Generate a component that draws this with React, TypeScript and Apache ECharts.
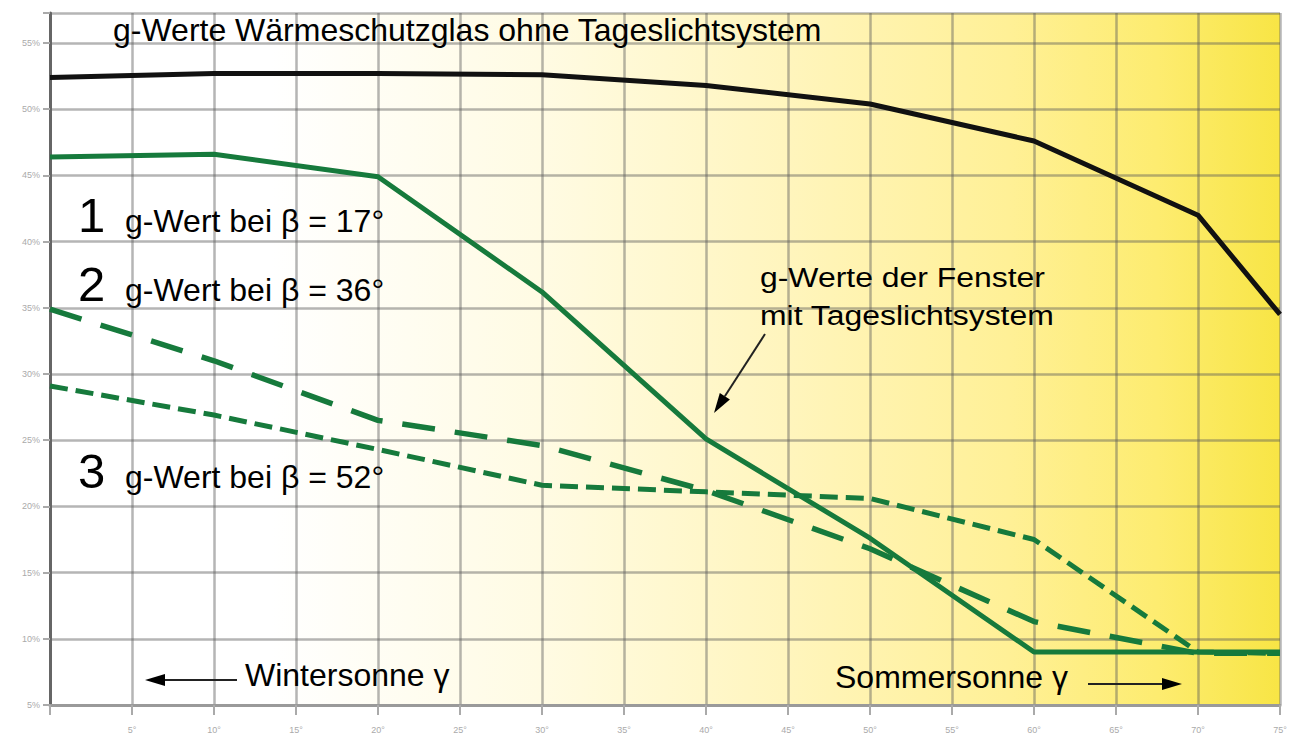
import React, { useEffect, useRef } from 'react';
import * as echarts from 'echarts';

// Sun elevation angle γ (degrees)
const angles = [0, 10, 20, 30, 40, 50, 60, 70, 75];
// g-Werte Wärmeschutzglas ohne Tageslichtsystem (%)
const gOhne = [52.4, 52.7, 52.7, 52.6, 51.8, 50.4, 47.6, 42.0, 34.5];
// g-Wert bei β = 17° (%)
const gBeta17 = [46.4, 46.6, 44.9, 36.2, 25.1, 17.6, 9.0, 9.0, 9.0];
// g-Wert bei β = 36° (%)
const gBeta36 = [34.9, 31.0, 26.5, 24.6, 21.2, 16.8, 11.3, 8.9, 8.9];
// g-Wert bei β = 52° (%)
const gBeta52 = [29.1, 26.9, 24.3, 21.6, 21.1, 20.6, 17.5, 9.0, 8.9];

const xTickStep = 5;
const yTickStep = 5;
const xMin = 0;
const xMax = 75;
const yMin = 5;
const yMax = 57.27;

const FONT = '"Liberation Sans", Arial, sans-serif';
const GREEN = '#167a3c';

const pairs = (ys: number[]) => angles.map((a, i) => [a, ys[i]]);

function txt(text: string, x: number, y: number, size: number, scaleX = 1) {
  return {
    type: 'text',
    x,
    y,
    scaleX,
    z: 100,
    style: {
      text,
      fontSize: size,
      fontFamily: FONT,
      fill: '#000',
      align: 'left',
      verticalAlign: 'middle',
    },
  };
}

export default function App() {
  const ref = useRef<HTMLDivElement>(null);
  useEffect(() => {
    document.body.style.margin = '0';
    const chart = echarts.init(ref.current!, null, { renderer: 'svg' });

    // diagonal arrow geometry
    const ax0 = 765, ay0 = 334, tipX = 714, tipY = 413;
    const dx = tipX - ax0, dy = tipY - ay0;
    const len = Math.sqrt(dx * dx + dy * dy);
    const ux = dx / len, uy = dy / len;
    const bx = tipX - 20 * ux, by = tipY - 20 * uy;
    const px = -uy, py = ux;

    chart.setOption({
      animation: false,
      backgroundColor: '#fff',
      grid: {
        left: 50,
        right: 17,
        top: 13,
        bottom: 38,
        show: true,
        borderWidth: 0,
        backgroundColor: {
          type: 'linear',
          x: 0, y: 0, x2: 1, y2: 0,
          colorStops: [
            { offset: 0, color: '#ffffff' },
            { offset: 0.18, color: '#ffffff' },
            { offset: 0.4, color: '#fffbe3' },
            { offset: 0.6, color: '#fff5bd' },
            { offset: 0.78, color: '#fff096' },
            { offset: 0.9, color: '#fdec70' },
            { offset: 1, color: '#f8e545' },
          ],
        },
      },
      xAxis: {
        type: 'value',
        min: xMin,
        max: xMax,
        interval: xTickStep,
        axisLine: { show: true, onZero: false, lineStyle: { color: '#9a9a9a', width: 3 } },
        axisTick: { show: true, length: 10, lineStyle: { color: '#aaa', width: 2 } },
        axisLabel: {
          margin: 20,
          fontSize: 9,
          color: '#aaa',
          fontFamily: FONT,
          formatter: (v: number) => (v === 0 ? '' : v + '°'),
        },
        splitLine: { show: true, lineStyle: { color: 'rgba(90,90,90,0.45)', width: 2.5 } },
      },
      yAxis: {
        type: 'value',
        min: yMin,
        max: yMax,
        interval: yTickStep,
        axisLine: { show: true, lineStyle: { color: '#666', width: 3 } },
        axisTick: { show: true, length: 7, lineStyle: { color: '#aaa', width: 2 } },
        axisLabel: {
          margin: 10,
          fontSize: 9,
          color: '#aaa',
          fontFamily: FONT,
          formatter: (v: number) => (Math.abs(v % 5) < 1e-6 ? v + '%' : ''),
        },
        splitLine: { show: true, lineStyle: { color: 'rgba(90,90,90,0.45)', width: 2.5 } },
      },
      series: [
        {
          name: 'g-Werte Wärmeschutzglas ohne Tageslichtsystem',
          type: 'line',
          data: pairs(gOhne),
          showSymbol: false,
          lineStyle: { color: '#111', width: 5 },
          z: 5,
        },
        {
          name: 'g-Wert bei β = 17°',
          type: 'line',
          data: pairs(gBeta17),
          showSymbol: false,
          lineStyle: { color: GREEN, width: 5 },
          z: 4,
        },
        {
          name: 'g-Wert bei β = 36°',
          type: 'line',
          data: pairs(gBeta36),
          showSymbol: false,
          lineStyle: { color: GREEN, width: 5.5, type: [33, 20], cap: 'butt' },
          z: 3,
        },
        {
          name: 'g-Wert bei β = 52°',
          type: 'line',
          data: pairs(gBeta52),
          showSymbol: false,
          lineStyle: { color: GREEN, width: 5, type: [18, 8], cap: 'butt' },
          z: 3,
        },
      ],
      graphic: [
        txt('g-Werte Wärmeschutzglas ohne Tageslichtsystem', 113, 30, 32),
        txt('1', 78, 232 - 17, 49),
        txt('g-Wert bei β = 17°', 125, 232 - 11, 32),
        txt('2', 78, 301 - 17, 49),
        txt('g-Wert bei β = 36°', 125, 301 - 11, 32),
        txt('3', 78, 488 - 17, 49),
        txt('g-Wert bei β = 52°', 125, 488 - 11, 32),
        txt('g-Werte der Fenster', 760, 287 - 10, 28, 1.14),
        txt('mit Tageslichtsystem', 760, 325 - 10, 28, 1.14),
        txt('Wintersonne γ', 245, 686 - 11, 32),
        txt('Sommersonne γ', 835, 688 - 11, 32),
        {
          type: 'line', z: 100,
          shape: { x1: ax0, y1: ay0, x2: bx, y2: by },
          style: { stroke: '#222', lineWidth: 2 },
        },
        {
          type: 'polygon', z: 100,
          shape: { points: [[tipX, tipY], [bx + 6 * px, by + 6 * py], [bx - 6 * px, by - 6 * py]] },
          style: { fill: '#000' },
        },
        {
          type: 'line', z: 100,
          shape: { x1: 237, y1: 680, x2: 163, y2: 680 },
          style: { stroke: '#222', lineWidth: 2 },
        },
        {
          type: 'polygon', z: 100,
          shape: { points: [[145, 680], [165, 674], [165, 686]] },
          style: { fill: '#000' },
        },
        {
          type: 'line', z: 100,
          shape: { x1: 1088, y1: 684, x2: 1164, y2: 684 },
          style: { stroke: '#222', lineWidth: 2 },
        },
        {
          type: 'polygon', z: 100,
          shape: { points: [[1182, 684], [1162, 678], [1162, 690]] },
          style: { fill: '#000' },
        },
      ],
    });
    return () => chart.dispose();
  }, []);
  return <div ref={ref} style={{ width: 1297, height: 743 }} />;
}
